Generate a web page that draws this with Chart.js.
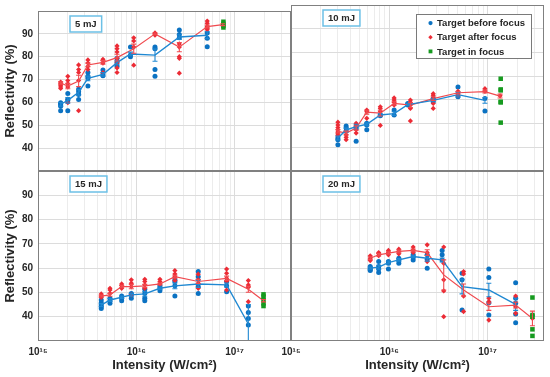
<!DOCTYPE html>
<html>
<head>
<meta charset="utf-8">
<script src="https://cdn.jsdelivr.net/npm/chart.js@4.4.0/dist/chart.umd.min.js"></script>
<style>
  body { margin: 0; background: #fff; }
  #wrap { position: relative; width: 550px; height: 377px; }
  #wrap canvas { position: absolute; left: 0; top: 0; }
</style>
</head>
<body>
<div id="wrap">
  <canvas id="c5" width="550" height="377"></canvas>
  <canvas id="c10" width="550" height="377"></canvas>
  <canvas id="c15" width="550" height="377"></canvas>
  <canvas id="c20" width="550" height="377"></canvas>
</div>
<script>
// axis ticks
const decades = [1e15, 1e16, 1e17];
const decadeLabels = ['10¹⁵', '10¹⁶', '10¹⁷'];
const yTicks = [40, 50, 60, 70, 80, 90];

// 5 mJ
const x5Blue = [1.70e15, 2.01e15, 2.59e15, 3.22e15, 4.58e15, 6.37e15, 8.73e15, 1.55e16, 2.74e16, 5.27e16];
const y5Blue = [59.2, 60.9, 64.4, 70.5, 72.3, 77.4, 81.2, 80.7, 88.6, 89.4];
const e5Blue = [0.8, 1.2, 1.2, 1.0, 0.8, 0.9, 0.8, 2.7, 1.0, 1.5];
const p5Blue = [[59.9,59.4,58.9,58.3,56.4],[63.9,61.4,60.8,56.4],[65.8,64.7,63.5,61.3],[73.1,71.4,70.6,67.2],[74.2,72.6,71.7],[79.3,77.5,75.8],[84.2,80.7,80.0],[84.2,83.5,74.4,71.4],[91.7,89.7,88.3],[90.4,88.1,84.4]];
const x5Red = [1.70e15, 2.01e15, 2.59e15, 3.22e15, 4.58e15, 6.37e15, 9.42e15, 1.55e16, 2.74e16, 5.27e16, 7.59e16];
const y5Red = [68.5, 67.2, 69.4, 76.4, 77.5, 79.6, 83.5, 90.0, 84.2, 93.2, 94.0];
const e5Red = [0.5, 1.2, 2.5, 0.8, 0.8, 1.5, 2.0, 0.4, 2.0, 0.6, 0.4];
const p5Red = [[68.9,68.2,67.5,66.8,66.1],[71.4,69.6,68.2,66.8,59.9],[76.4,74.4,73.1,69.6,56.4],[78.6,77.2,75.8,74.4],[78.9,78.3,77.2,73.1],[84.7,83.5,82.1,79.3,77.2,75.1,73.1],[88.3,86.9,84.2,76.3],[90.4,90.0,89.4],[85.6,84.2,80.0,79.3,72.8],[95.6,94.6,93.2,92.5,91.8],[]];
const x5Green = [7.7e16];
const p5Green = [[95.3,94.4,93.6,92.8]];

// 10 mJ
const x10Blue = [3.0e15, 3.64e15, 4.6e15, 5.9e15, 8.1e15, 1.12e16, 1.54e16, 2.8e16, 5.0e16, 9.4e16];
const y10Blue = [43.9, 47.3, 48.7, 49.7, 53.6, 54.2, 58.0, 59.8, 62.2, 59.8];
const e10Blue = [0.8, 0.8, 1.0, 0.6, 0.5, 0.8, 0.5, 0.6, 1.0, 1.2];
const p10Blue = [[43.9,43.2,41.1],[49.0,48.1,46.9],[48.8,48.1,42.5],[50.1,49.4,47.4],[53.6,53.3],[55.7,53.6],[58.5,57.8],[60.6,59.2],[65.4,61.3],[60.6,55.3]];
const x10Red = [3.0e15, 3.64e15, 4.6e15, 5.9e15, 8.1e15, 1.12e16, 1.64e16, 2.8e16, 5.0e16, 9.4e16, 1.34e17];
const y10Red = [46.7, 46.0, 48.1, 54.8, 54.4, 58.5, 57.8, 60.5, 63.0, 63.5, 61.6];
const e10Red = [0.7, 0.8, 0.9, 0.8, 1.2, 0.7, 1.0, 0.8, 0.5, 0.6, 0.8];
const p10Red = [[50.6,49.4,48.3,47.4,46.4,45.6,45.0],[46.7,45.3,44.2,43.2],[50.1,49.4,47.4,46.0],[55.7,55.0,52.2],[57.1,56.4,55.0,49.2],[60.8,59.9,58.9,57.8],[59.9,58.9,57.8,56.4,51.1],[62.6,61.9,60.6,58.5,56.4],[63.6,62.6,61.9],[64.7,63.6],[61.7]];
const x10Green = [1.36e17];
const p10Green = [[68.9,64.4,64.0,59.2,58.9,50.4]];

// 15 mJ
const x15Blue = [4.4e15, 5.4e15, 7.1e15, 8.9e15, 1.22e16, 1.74e16, 2.47e16, 4.27e16, 8.3e16, 1.38e17];
const y15Blue = [44.8, 46.9, 48.0, 49.0, 49.4, 51.7, 52.7, 53.5, 53.1, 37.0];
const e15Blue = [0.6, 0.6, 0.5, 0.6, 1.0, 0.5, 1.2, 1.5, 0.8, 8.0];
const p15Blue = [[46.9,45.8,44.8,44.1,43.4],[47.6,46.6,45.5],[48.5,47.6,46.6],[49.6,49.0,47.6],[51.3,49.6,47.6,46.6],[52.7,51.7,50.7],[55.2,54.5,52.7,48.5],[58.6,56.5,52.4,49.6],[54.5,52.7,50.3],[44.4,41.7,39.3,36.6]];
const x15Red = [4.4e15, 5.4e15, 7.1e15, 8.9e15, 1.22e16, 1.74e16, 2.47e16, 4.27e16, 8.3e16, 1.38e17, 1.97e17];
const y15Red = [48.5, 49.0, 52.4, 52.4, 52.7, 53.5, 56.5, 54.5, 55.8, 51.3, 46.6];
const e15Red = [0.4, 0.6, 0.5, 0.9, 0.6, 0.4, 0.6, 0.8, 0.9, 1.2, 0.5];
const p15Red = [[49.4,48.5,48.0],[51.7,51.0,49.6],[53.5,52.7,51.7],[55.2,53.8,52.4,49.0],[55.4,54.5,53.1,51.7],[55.4,54.5,53.5],[59.0,57.6,56.5,54.9],[57.5,55.2,53.8,51.7],[59.6,57.9,55.8,54.5,51.0],[54.9,53.1,52.1,46.2],[]];
const x15Green = [1.97e17];
const p15Green = [[49.2,48.3,46.9,45.5,44.4]];

// 20 mJ
const x20Blue = [6.4e15, 7.8e15, 9.8e15, 1.25e16, 1.75e16, 2.43e16, 3.45e16, 5.5e16, 1.03e17, 1.93e17];
const y20Blue = [60.0, 60.4, 62.3, 63.4, 64.8, 64.1, 63.4, 52.4, 51.0, 45.1];
const e20Blue = [0.4, 0.8, 0.6, 0.5, 0.5, 1.2, 0.8, 3.0, 2.8, 2.5];
const p20Blue = [[60.7,60.0,59.3,59.0],[62.7,60.7,59.6,58.2],[62.7,62.0,59.6],[64.1,63.1,62.0],[65.5,64.5,63.4],[65.5,63.7,60.0],[67.3,65.5,63.4],[57.9,55.2,42.8],[59.6,56.1,45.8,40.7],[54.0,47.6,45.5,41.1,37.5]];
const x20Red = [6.4e15, 7.8e15, 9.8e15, 1.25e16, 1.75e16, 2.43e16, 3.58e16, 5.7e16, 1.03e17, 1.93e17, 2.86e17];
const y20Red = [64.1, 65.5, 66.2, 66.9, 67.3, 66.4, 57.2, 51.0, 44.1, 44.8, 39.3];
const e20Red = [0.6, 0.5, 0.5, 0.6, 0.6, 1.2, 6.2, 2.5, 1.5, 1.2, 3.0];
const p20Red = [[65.1,64.1,63.1],[66.4,65.9,65.1],[67.3,66.4,65.5],[67.8,66.9,65.9],[68.7,67.5,66.4],[69.6,66.4,62.7],[68.7,62.0,55.2,50.6,40.0],[58.6,57.6,48.5,42.1],[47.6,46.2,38.6],[48.5,44.1,41.4],[40.7,39.3]];
const x20Green = [2.86e17];
const p20Green = [[47.9,40.7,40.0,34.8,32.1]];

const FONT = "'Liberation Sans', Arial, sans-serif";
const TXT = '#262626';
const BLUE = '#0b72c2', BLUE_LINE = '#1f88d2';
const RED = '#ec2b35', RED_LINE = '#f04a4f';
const GREEN = '#169a1f';
const X_MAX = 3.75e17;

// grid positions for the log axis (1..9 x each decade)
const xGrid = [];
decades.forEach(d => { for (let k = 1; k <= 9; k++) if (k * d <= X_MAX) xGrid.push(k * d); });

function spread(xs, groups) {
  const out = [];
  groups.forEach((g, i) => g.forEach(v => out.push({ x: xs[i], y: v })));
  return out;
}
function pairs(xs, ys) { return xs.map((x, i) => ({ x: x, y: ys[i] })); }

const deco = {
  id: 'deco',
  afterDatasetsDraw(chart, args, o) {
    const { ctx, chartArea: a, scales: { x, y } } = chart;
    ctx.save();
    ctx.beginPath();
    ctx.rect(a.left, a.top, a.right - a.left, a.bottom - a.top);
    ctx.clip();
    (o.err || []).forEach(s => {
      ctx.strokeStyle = s.color;
      ctx.lineWidth = 1.1;
      s.x.forEach((xv, i) => {
        const px = x.getPixelForValue(xv);
        const lo = y.getPixelForValue(s.y[i] - s.e[i]);
        const hi = y.getPixelForValue(s.y[i] + s.e[i]);
        ctx.beginPath();
        ctx.moveTo(px, lo); ctx.lineTo(px, hi);
        ctx.moveTo(px - 2.5, lo); ctx.lineTo(px + 2.5, lo);
        ctx.moveTo(px - 2.5, hi); ctx.lineTo(px + 2.5, hi);
        ctx.stroke();
      });
    });
    ctx.restore();
  },
  afterDraw(chart, args, o) {
    const { ctx, chartArea: a } = chart;
    ctx.save();
    // axes box
    ctx.strokeStyle = '#808080';
    ctx.lineWidth = 1;
    ctx.strokeRect(a.left + 0.5, a.top + 0.5, a.right - a.left - 1, a.bottom - a.top - 1);

    // energy label
    ctx.font = 'bold 9.5px ' + FONT;
    const w = ctx.measureText(o.label).width + 10;
    const bx = a.left + 32, by = a.top + 5;
    ctx.fillStyle = '#fff';
    ctx.fillRect(bx, by, w, 16);
    ctx.strokeStyle = '#6cc0e6';
    ctx.lineWidth = 1.5;
    ctx.strokeRect(bx, by, w, 16);
    ctx.fillStyle = TXT;
    ctx.textBaseline = 'middle';
    ctx.textAlign = 'center';
    ctx.fillText(o.label, bx + w / 2, by + 8.5);

    // legend
    if (o.legend) {
      const items = chart.data.datasets.filter(d => d.label);
      const lx = a.right - 128, ly = a.top + 9;
      ctx.fillStyle = '#fff';
      ctx.fillRect(lx, ly, 115, 44);
      ctx.strokeStyle = '#7a7a7a';
      ctx.lineWidth = 1;
      ctx.strokeRect(lx + 0.5, ly + 0.5, 115, 44);
      ctx.textAlign = 'left';
      ctx.font = 'bold 9.5px ' + FONT;
      items.forEach((d, i) => {
        const yy = ly + 9 + i * 14.2;
        ctx.fillStyle = d.pointBackgroundColor;
        ctx.strokeStyle = d.pointBackgroundColor;
        Chart.helpers.drawPoint(ctx, { pointStyle: d.pointStyle, radius: d.pointRadius * 0.85, rotation: 0, borderWidth: 0 }, lx + 14.5, yy);
        ctx.fillStyle = TXT;
        ctx.fillText(d.label, lx + 21, yy + 0.5);
      });
    }
    ctx.restore();
  }
};

function makePanel(id, label, pad, left, bottom, legend, xb, yb, eb, pb, xr, yr, er, pr, xg, pg) {
  const datasets = [
    { type: 'scatter', label: 'Target before focus', data: spread(xb, pb), pointStyle: 'circle', pointRadius: 2.5,
      pointBackgroundColor: BLUE, pointBorderWidth: 0, order: 4 },
    { type: 'scatter', label: 'Target after focus', data: spread(xr, pr), pointStyle: 'rectRot', pointRadius: 2.6,
      pointBackgroundColor: RED, pointBorderWidth: 0, order: 3 },
    { type: 'scatter', label: 'Target in focus', data: spread(xg, pg), pointStyle: 'rect', pointRadius: 3.2,
      pointBackgroundColor: GREEN, pointBorderWidth: 0, order: 0 },
    { type: 'line', data: pairs(xb, yb), borderColor: BLUE_LINE, borderWidth: 1.4, pointRadius: 0, tension: 0, order: 1 },
    { type: 'line', data: pairs(xr, yr), borderColor: RED_LINE, borderWidth: 1.2, pointRadius: 0, tension: 0, order: 2 }
  ];

  return new Chart(document.getElementById(id), {
    data: { datasets: datasets },
    plugins: [deco],
    options: {
      responsive: false,
      animation: false,
      layout: { padding: pad, autoPadding: false },
      plugins: {
        legend: { display: false },
        tooltip: { enabled: false },
        deco: {
          label: label,
          legend: legend,
          err: [{ x: xb, y: yb, e: eb, color: BLUE_LINE }, { x: xr, y: yr, e: er, color: RED_LINE }]
        }
      },
      scales: {
        x: {
          type: 'logarithmic',
          min: 1e15,
          max: X_MAX,
          afterBuildTicks: s => { s.ticks = xGrid.map(v => ({ value: v, major: decades.includes(v) })); },
          afterFit: s => { s.height = bottom ? 36 : 0; },
          border: { display: false },
          grid: {
            drawTicks: false,
            color: c => (c.tick && decades.includes(c.tick.value)) ? '#dcdcdc' : '#ececec'
          },
          ticks: {
            display: bottom,
            autoSkip: false,
            maxRotation: 0,
            padding: 5,
            color: TXT,
            font: { family: FONT, size: 10, weight: 'bold' },
            callback: v => { const i = decades.indexOf(v); return i >= 0 ? decadeLabels[i] : ''; }
          },
          title: {
            display: bottom,
            text: 'Intensity (W/cm²)',
            color: TXT,
            font: { family: FONT, size: 13, weight: 'bold' },
            padding: { top: 0, bottom: 4 }
          }
        },
        y: {
          min: 30,
          max: 100,
          afterBuildTicks: s => { s.ticks = yTicks.map(v => ({ value: v })); },
          afterFit: s => { s.width = left ? 38 : 0; },
          border: { display: false },
          grid: { drawTicks: false, color: '#dcdcdc' },
          ticks: {
            display: left,
            padding: 5,
            color: TXT,
            font: { family: FONT, size: 10, weight: 'bold' }
          },
          title: {
            display: left,
            text: 'Reflectivity (%)',
            color: TXT,
            font: { family: FONT, size: 13, weight: 'bold' },
            padding: { top: 3, bottom: 0 }
          }
        }
      }
    }
  });
}

makePanel('c5', '5 mJ', { left: 0, top: 5, right: 259, bottom: 206 }, true, false, false,
  x5Blue, y5Blue, e5Blue, p5Blue, x5Red, y5Red, e5Red, p5Red, x5Green, p5Green);
makePanel('c10', '10 mJ', { left: 291, top: 5, right: 6, bottom: 206 }, false, false, true,
  x10Blue, y10Blue, e10Blue, p10Blue, x10Red, y10Red, e10Red, p10Red, x10Green, p10Green);
makePanel('c15', '15 mJ', { left: 0, top: 171, right: 259, bottom: 0 }, true, true, false,
  x15Blue, y15Blue, e15Blue, p15Blue, x15Red, y15Red, e15Red, p15Red, x15Green, p15Green);
makePanel('c20', '20 mJ', { left: 291, top: 171, right: 6, bottom: 0 }, false, true, false,
  x20Blue, y20Blue, e20Blue, p20Blue, x20Red, y20Red, e20Red, p20Red, x20Green, p20Green);
</script>
</body>
</html>
